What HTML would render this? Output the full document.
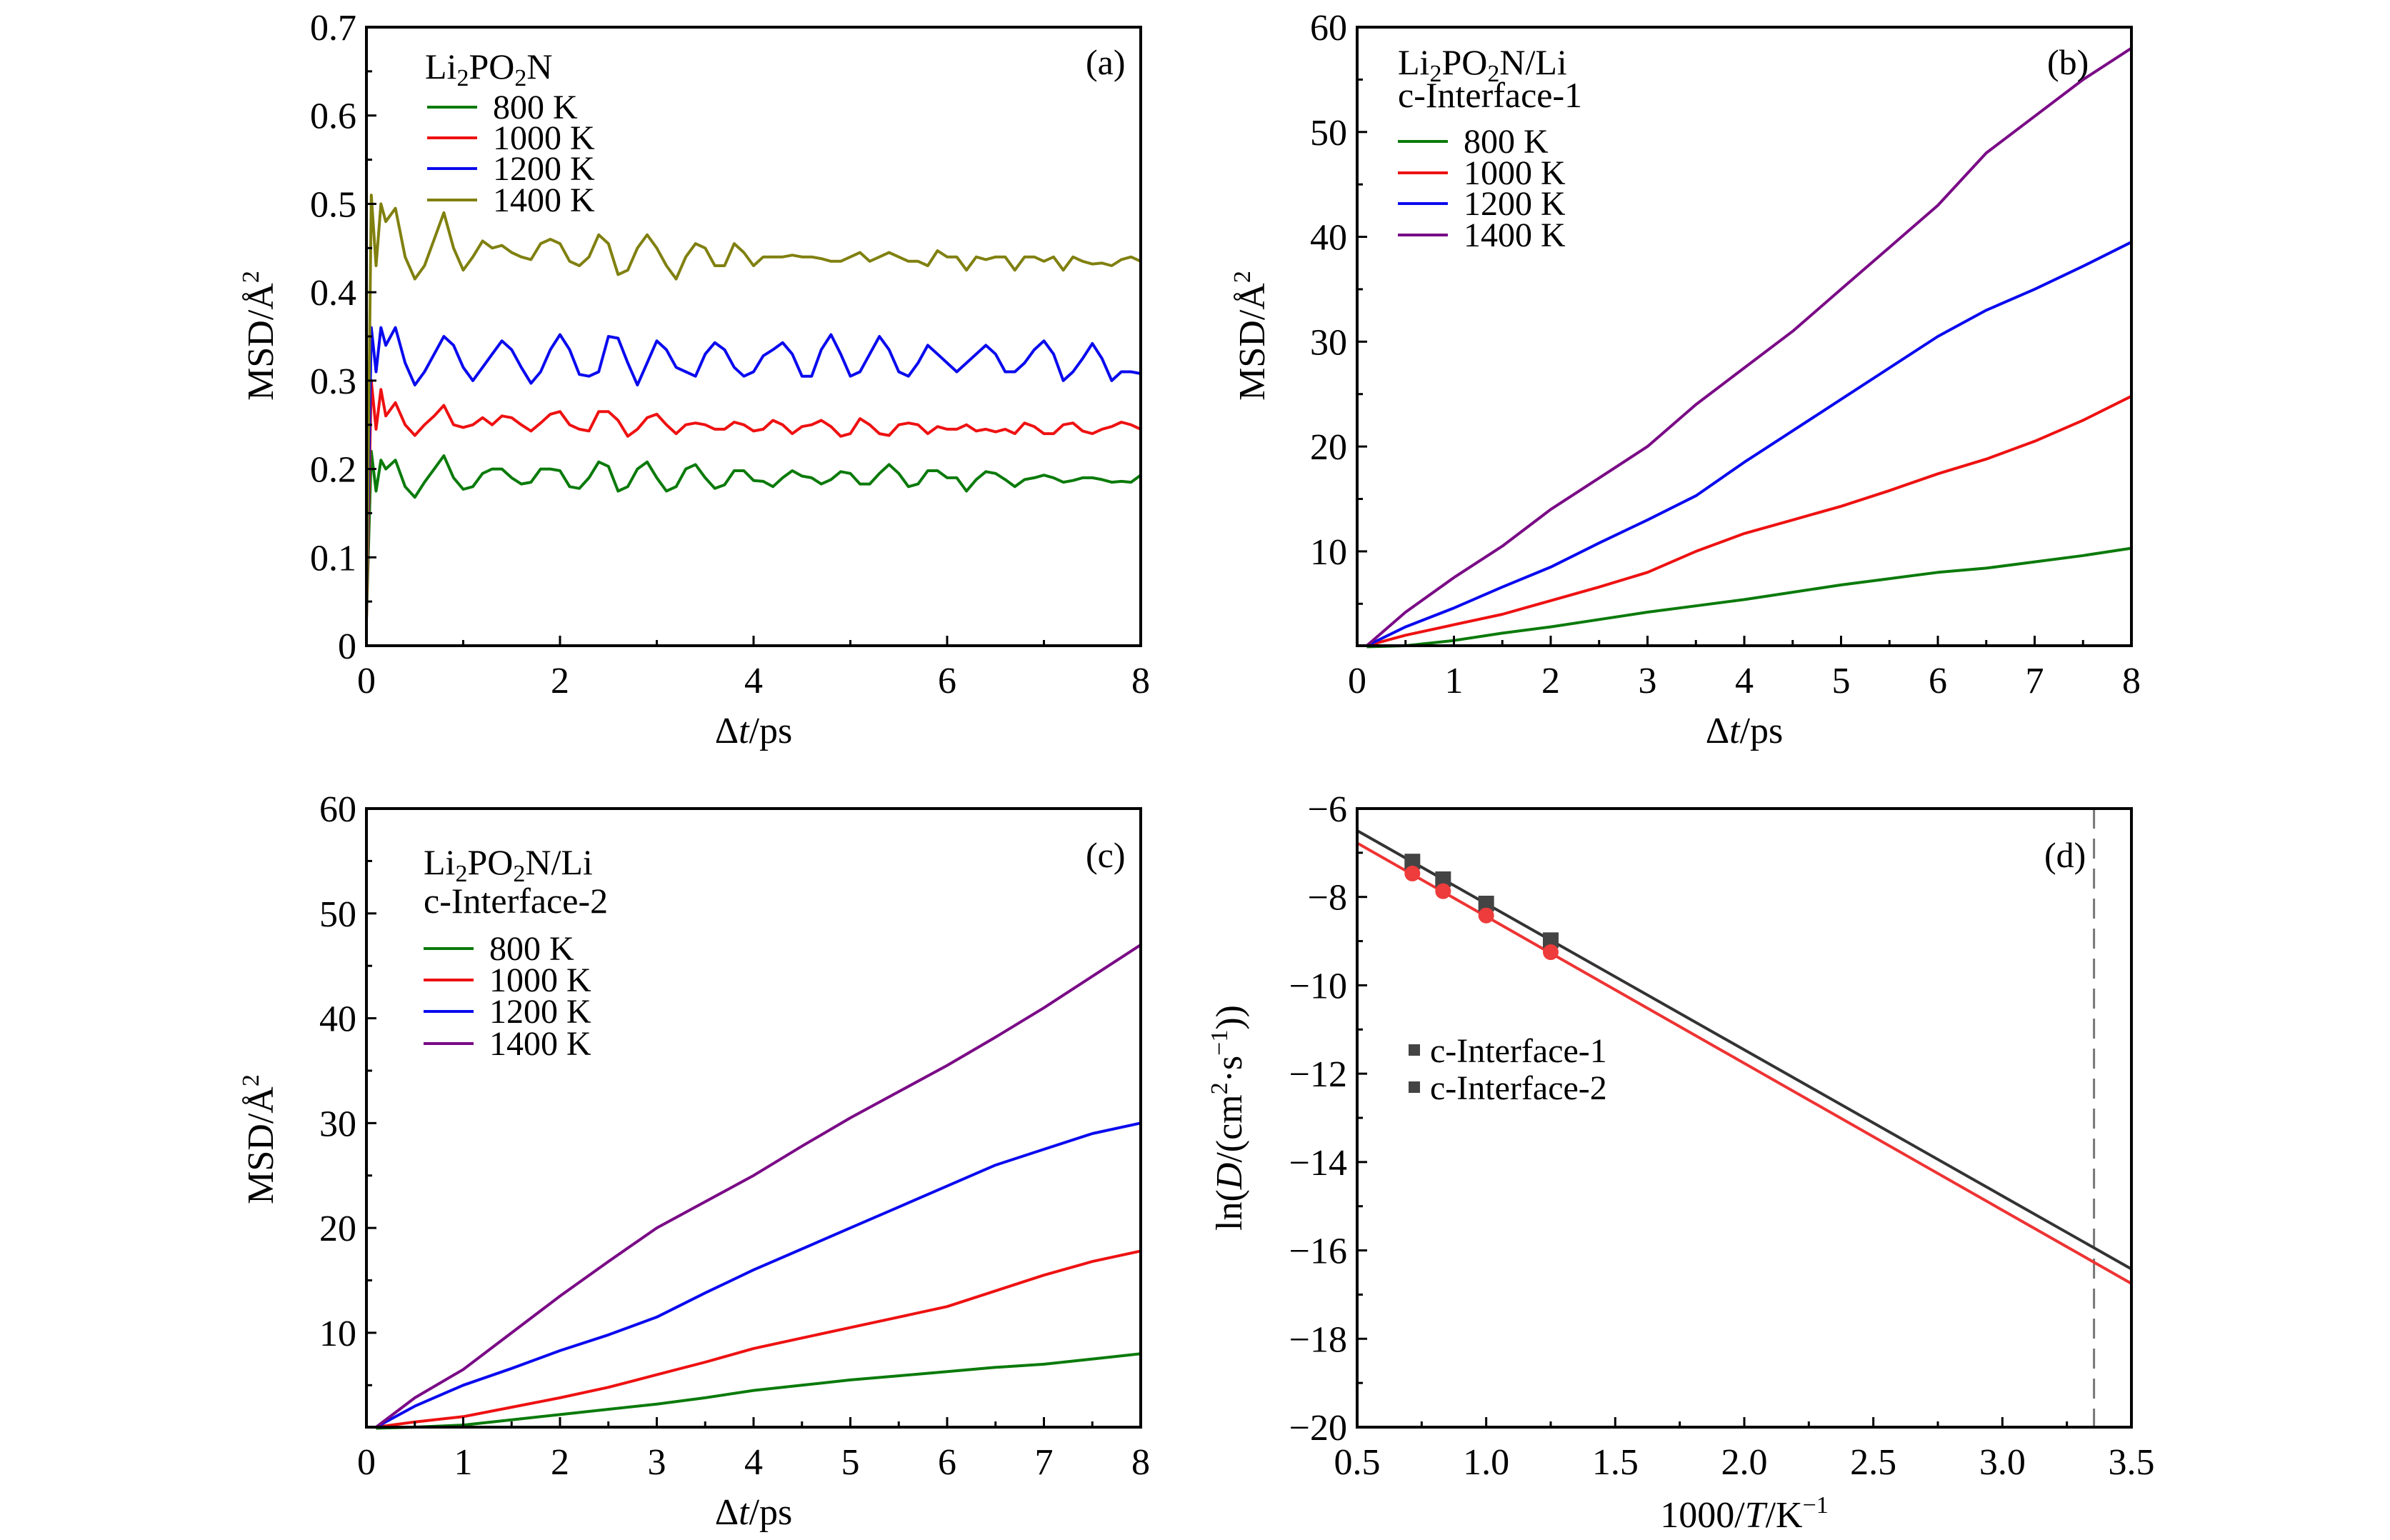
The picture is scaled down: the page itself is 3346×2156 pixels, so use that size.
<!DOCTYPE html>
<html><head><meta charset="utf-8"><style>
html,body{margin:0;padding:0;background:#fff;}
svg{display:block;font-family:"Liberation Serif",serif;}
</style></head><body>
<svg id="fig" width="3346" height="2156" viewBox="0 0 3346 2156" xmlns="http://www.w3.org/2000/svg"></svg>
<script>
// ---------- Panel (a) data ----------
const tA=[0,0.05,0.1,0.15,0.2,0.3,0.4,0.5,0.6,0.7,0.8,0.9,1.0,1.1,1.2,1.3,1.4,1.5,1.6,1.7,1.8,1.9,2.0,2.1,2.2,2.3,2.4,2.5,2.6,2.7,2.8,2.9,3.0,3.1,3.2,3.3,3.4,3.5,3.6,3.7,3.8,3.9,4.0,4.1,4.2,4.3,4.4,4.5,4.6,4.7,4.8,4.9,5.0,5.1,5.2,5.3,5.4,5.5,5.6,5.7,5.8,5.9,6.0,6.1,6.2,6.3,6.4,6.5,6.6,6.7,6.8,6.9,7.0,7.1,7.2,7.3,7.4,7.5,7.6,7.7,7.8,7.9,8.0];
const a800=[0.03,0.22,0.175,0.21,0.20,0.21,0.18,0.168,0.185,0.20,0.215,0.19,0.177,0.18,0.195,0.20,0.20,0.19,0.183,0.185,0.20,0.20,0.198,0.18,0.178,0.19,0.208,0.203,0.175,0.18,0.20,0.208,0.19,0.175,0.18,0.20,0.205,0.19,0.178,0.182,0.198,0.198,0.187,0.186,0.18,0.19,0.198,0.192,0.19,0.183,0.188,0.197,0.195,0.183,0.183,0.195,0.205,0.195,0.18,0.183,0.198,0.198,0.19,0.19,0.175,0.188,0.197,0.195,0.188,0.18,0.188,0.19,0.193,0.19,0.185,0.187,0.19,0.19,0.188,0.185,0.186,0.185,0.193];
const a1000=[0.03,0.30,0.245,0.29,0.26,0.275,0.25,0.238,0.25,0.26,0.272,0.25,0.247,0.25,0.258,0.25,0.26,0.258,0.25,0.243,0.252,0.262,0.265,0.25,0.245,0.243,0.265,0.265,0.255,0.237,0.245,0.258,0.262,0.25,0.24,0.25,0.252,0.25,0.245,0.245,0.253,0.25,0.243,0.245,0.255,0.25,0.24,0.248,0.25,0.255,0.248,0.237,0.24,0.257,0.25,0.24,0.238,0.25,0.252,0.25,0.24,0.248,0.245,0.245,0.25,0.243,0.245,0.242,0.245,0.24,0.252,0.248,0.24,0.24,0.25,0.252,0.243,0.24,0.245,0.248,0.253,0.25,0.245];
const a1200=[0.04,0.36,0.31,0.36,0.34,0.36,0.32,0.295,0.31,0.33,0.35,0.34,0.315,0.30,0.315,0.33,0.345,0.335,0.315,0.297,0.31,0.335,0.352,0.335,0.307,0.305,0.31,0.35,0.348,0.32,0.295,0.32,0.345,0.335,0.315,0.31,0.305,0.33,0.343,0.335,0.315,0.305,0.31,0.328,0.335,0.343,0.33,0.305,0.305,0.335,0.352,0.33,0.305,0.31,0.33,0.35,0.335,0.31,0.305,0.32,0.34,0.33,0.32,0.31,0.32,0.33,0.34,0.33,0.31,0.31,0.32,0.335,0.345,0.33,0.30,0.31,0.325,0.342,0.325,0.30,0.31,0.31,0.308];
const a1400=[0.03,0.51,0.43,0.50,0.48,0.495,0.44,0.415,0.43,0.46,0.49,0.45,0.425,0.44,0.458,0.45,0.453,0.445,0.44,0.437,0.455,0.46,0.455,0.435,0.43,0.44,0.465,0.455,0.42,0.425,0.45,0.465,0.45,0.43,0.415,0.44,0.455,0.45,0.43,0.43,0.455,0.445,0.43,0.44,0.44,0.44,0.442,0.44,0.44,0.438,0.435,0.435,0.44,0.445,0.435,0.44,0.445,0.44,0.435,0.435,0.43,0.447,0.44,0.44,0.425,0.44,0.437,0.44,0.44,0.425,0.44,0.44,0.435,0.44,0.425,0.44,0.435,0.432,0.433,0.43,0.437,0.44,0.435];
// ---------- Panel (b) data ----------
const tB=[0.1,0.5,1,1.5,2,2.5,3,3.5,4,4.5,5,5.5,6,6.5,7,7.5,8];
const b800=[0.9,1.0,1.5,2.2,2.8,3.5,4.2,4.8,5.4,6.1,6.8,7.4,8.0,8.4,9.0,9.6,10.3];
const b1000=[1.0,2.0,3.0,4.0,5.3,6.6,8.0,10.0,11.7,13.0,14.3,15.8,17.4,18.8,20.5,22.5,24.8];
const b1200=[1.0,2.8,4.6,6.6,8.5,10.8,13.0,15.3,18.5,21.5,24.5,27.5,30.5,33.0,35.0,37.2,39.5];
const b1400=[1.0,4.2,7.5,10.5,14.0,17.0,20.0,24.0,27.5,31.0,35.0,39.0,43.0,48.0,51.5,55.0,58.0];
// ---------- Panel (c) data ----------
const c800=[0.9,1.0,1.2,1.7,2.2,2.7,3.2,3.8,4.5,5.0,5.5,5.9,6.3,6.7,7.0,7.5,8.0];
const c1000=[1.0,1.5,2.0,2.9,3.8,4.8,6.0,7.2,8.5,9.5,10.5,11.5,12.5,14.0,15.5,16.8,17.8];
const c1200=[1.0,3.0,5.0,6.6,8.3,9.8,11.5,13.8,16.0,18.0,20.0,22.0,24.0,26.0,27.5,29.0,30.0];
const c1400=[1.0,3.8,6.5,10.0,13.5,16.8,20.0,22.5,25.0,27.8,30.5,33.0,35.5,38.2,41.0,44.0,47.0];
// ---------- Panel (d) data ----------
const dX=[0.714,0.833,1.0,1.25];
const dY1=[-7.2,-7.6,-8.15,-8.98];
const dY2=[-7.47,-7.87,-8.42,-9.25];
const fitX=[0.5,3.5];
const fit1=[-6.5,-16.42];
const fit2=[-6.78,-16.75];
const roomT=3.355;
const ticksA=[0,0.1,0.2,0.3,0.4,0.5,0.6,0.7];
const ticksB=[10,20,30,40,50,60];
const ticksD=[-20,-18,-16,-14,-12,-10,-8,-6];
const ticksX8=[0,1,2,3,4,5,6,7,8];
const ticksXA=[0,2,4,6,8];
const ticksXD=[0.5,1.0,1.5,2.0,2.5,3.0,3.5];

const NS="http://www.w3.org/2000/svg";
const svg=document.getElementById('fig');
function mk(tag,attrs,parent,text){const e=document.createElementNS(NS,tag);for(const k in attrs)e.setAttribute(k,attrs[k]);if(text!==undefined)e.textContent=text;(parent||svg).appendChild(e);return e;}

function panel(id,L,R,T,B,x0,x1,y0,y1){
  const g=mk('g',{});
  
  
  const sx=v=>L+(v-x0)/(x1-x0)*(R-L);
  const sy=v=>B-(v-y0)/(y1-y0)*(B-T);
  return {g,sx,sy,L,R,T,B};
}
function frame(p){
  const r=mk('rect',{x:p.L,y:p.T,width:p.R-p.L,height:p.B-p.T,fill:'none',stroke:'#000','stroke-width':4},p.g);
  
  
}
function xTicks(p,major,minorStep,fmt){
  for(let i=0;i<major.length;i++){
    const v=major[i],x=p.sx(v);
    mk('line',{x1:x,y1:p.B,x2:x,y2:p.B-14,stroke:'#000','stroke-width':3},p.g);
    const t=mk('text',{x:x,y:p.B+66,'font-size':52,'text-anchor':'middle'},p.g,fmt?fmt(v):String(v));
    
    
    if(minorStep&&i<major.length-1){
      for(let m=v+minorStep;m<major[i+1]-1e-9;m+=minorStep){const xm=p.sx(m);mk('line',{x1:xm,y1:p.B,x2:xm,y2:p.B-8,stroke:'#000','stroke-width':3},p.g);}
    }
  }
}
function yTicks(p,major,minorStep,fmt,lo){
  for(let i=0;i<major.length;i++){
    const v=major[i],y=p.sy(v);
    mk('line',{x1:p.L,y1:y,x2:p.L+14,y2:y,stroke:'#000','stroke-width':3},p.g);
    const t=mk('text',{x:p.L-14,y:y+18,'font-size':52,'text-anchor':'end'},p.g,fmt?fmt(v):String(v));
    
    
    const nxt=i<major.length-1?major[i+1]:null;
    if(nxt!==null){for(let m=v+minorStep;m<nxt-1e-9;m+=minorStep){const ym=p.sy(m);mk('line',{x1:p.L,y1:ym,x2:p.L+8,y2:ym,stroke:'#000','stroke-width':3},p.g);}}
  }
  if(lo!==undefined){for(let m=major[0]-minorStep;m>lo;m-=minorStep){const ym=p.sy(m);mk('line',{x1:p.L,y1:ym,x2:p.L+8,y2:ym,stroke:'#000','stroke-width':3},p.g);}}
}
function series(p,xs,ys,color,name){
  let d='';for(let i=0;i<xs.length;i++)d+=(i?'L':'M')+p.sx(xs[i]).toFixed(1)+' '+p.sy(ys[i]).toFixed(1);
  const e=mk('path',{d:d,fill:'none',stroke:color,'stroke-width':4,'stroke-linejoin':'round'},p.g);
  
  
}
function legendEntry(p,x,y,color,label){
  const l=mk('line',{x1:x,y1:y,x2:x+70,y2:y,stroke:color,'stroke-width':4},p.g);
  
  
  const t=mk('text',{x:x+92,y:y+16,'font-size':48},p.g,label);
  
  
}
function label(p,x,y,txt,name,anchor,size){
  const t=mk('text',{x:x,y:y,'font-size':size||50,'text-anchor':anchor||'start'},p.g);
  t.innerHTML=txt;
  
  
  return t;
}
function ytitle(p,cx,cy,html){
  const t=mk('text',{x:0,y:0,'font-size':52,'text-anchor':'middle',transform:`translate(${cx},${cy}) rotate(-90)`},p.g);
  t.innerHTML=html;
  
  
}
const G='#0a7a0a',RD='#ee1111',BL='#0a0aee',OL='#808010',PU='#7a0a86';
const sub=s=>`<tspan font-size="34" baseline-shift="-10">${s}</tspan>`;
const sup=s=>`<tspan font-size="34" baseline-shift="20">${s}</tspan>`;
const msd=`MSD/Å${sup('2')}`;
const dtT=`Δ<tspan font-style="italic">t</tspan>/ps`;

// Panel a
let p=panel('a',513,1597,38,904,0,8,0,0.7);
series(p,tA,a800,G,'series-800k');series(p,tA,a1000,RD,'series-1000k');series(p,tA,a1200,BL,'series-1200k');series(p,tA,a1400,OL,'series-1400k');
frame(p);xTicks(p,ticksXA,1);yTicks(p,ticksA,0.05,v=>v===0?'0':v.toFixed(1));
label(p,595,110,`Li${sub('2')}PO${sub('2')}N`,'legend-title');
legendEntry(p,598,150,G,'800 K');legendEntry(p,598,193,RD,'1000 K');legendEntry(p,598,236,BL,'1200 K');legendEntry(p,598,280,OL,'1400 K');
label(p,1520,104,'(a)','panel-label-a');
ytitle(p,382,470,msd);
label(p,1055,1040,dtT,'x-axis-title','middle',52);

// Panel b
p=panel('b',1900,2984,38,904,0,8,1,60);
series(p,tB,b800,G,'series-800k');series(p,tB,b1000,RD,'series-1000k');series(p,tB,b1200,BL,'series-1200k');series(p,tB,b1400,PU,'series-1400k');
frame(p);xTicks(p,ticksX8,0.5);yTicks(p,ticksB,5,null,1);
label(p,1957,104,`Li${sub('2')}PO${sub('2')}N/Li`,'legend-title');
label(p,1957,150,'c-Interface-1','legend-subtitle');
legendEntry(p,1957,198,G,'800 K');legendEntry(p,1957,242,RD,'1000 K');legendEntry(p,1957,285,BL,'1200 K');legendEntry(p,1957,329,PU,'1400 K');
label(p,2866,104,'(b)','panel-label-b');
ytitle(p,1770,470,msd);
label(p,2442,1040,dtT,'x-axis-title','middle',52);

// Panel c
p=panel('c',513,1597,1132,1998,0,8,1,60);
series(p,tB,c800,G,'series-800k');series(p,tB,c1000,RD,'series-1000k');series(p,tB,c1200,BL,'series-1200k');series(p,tB,c1400,PU,'series-1400k');
frame(p);xTicks(p,ticksX8,0.5);yTicks(p,ticksB,5,null,1);
label(p,593,1224,`Li${sub('2')}PO${sub('2')}N/Li`,'legend-title');
label(p,593,1278,'c-Interface-2','legend-subtitle');
legendEntry(p,593,1328,G,'800 K');legendEntry(p,593,1372,RD,'1000 K');legendEntry(p,593,1416,BL,'1200 K');legendEntry(p,593,1461,PU,'1400 K');
label(p,1520,1214,'(c)','panel-label-c');
ytitle(p,382,1595,msd);
label(p,1055,2134,dtT,'x-axis-title','middle',52);

// Panel d
p=panel('d',1900,2984,1132,1998,0.5,3.5,-20,-6);
const dl=mk('line',{x1:p.sx(roomT),y1:p.T,x2:p.sx(roomT),y2:p.B,stroke:'#777','stroke-width':3,'stroke-dasharray':'28 14'},p.g);


series(p,fitX,fit1,'#333','fit-line-interface-1');
series(p,fitX,fit2,'#ee3333','fit-line-interface-2');
for(let i=0;i<dX.length;i++){
  const s=mk('rect',{x:p.sx(dX[i])-11,y:p.sy(dY1[i])-11,width:22,height:22,fill:'#444'},p.g);
  
  
  const c=mk('circle',{cx:p.sx(dX[i]),cy:p.sy(dY2[i]),r:11,fill:'#ee3b3b'},p.g);
  
  
}
frame(p);xTicks(p,ticksXD,0.25,v=>v.toFixed(1));yTicks(p,ticksD,1,v=>'−'+Math.abs(v));
const s1=mk('rect',{x:1972,y:1462,width:16,height:16,fill:'#444'},p.g);
const s2=mk('rect',{x:1972,y:1514,width:16,height:16,fill:'#444'},p.g);
label(p,2002,1487,'c-Interface-1','legend-entry',null,48);
label(p,2002,1539,'c-Interface-2','legend-entry',null,48);
label(p,2862,1214,'(d)','panel-label-d');
ytitle(p,1738,1565,`ln(<tspan font-style="italic">D</tspan>/(cm${sup('2')}·s${sup('−1')}))`);
label(p,2442,2138,`1000/<tspan font-style="italic">T</tspan>/K${sup('−1')}`,'x-axis-title','middle',52);
</script>
</body></html>
